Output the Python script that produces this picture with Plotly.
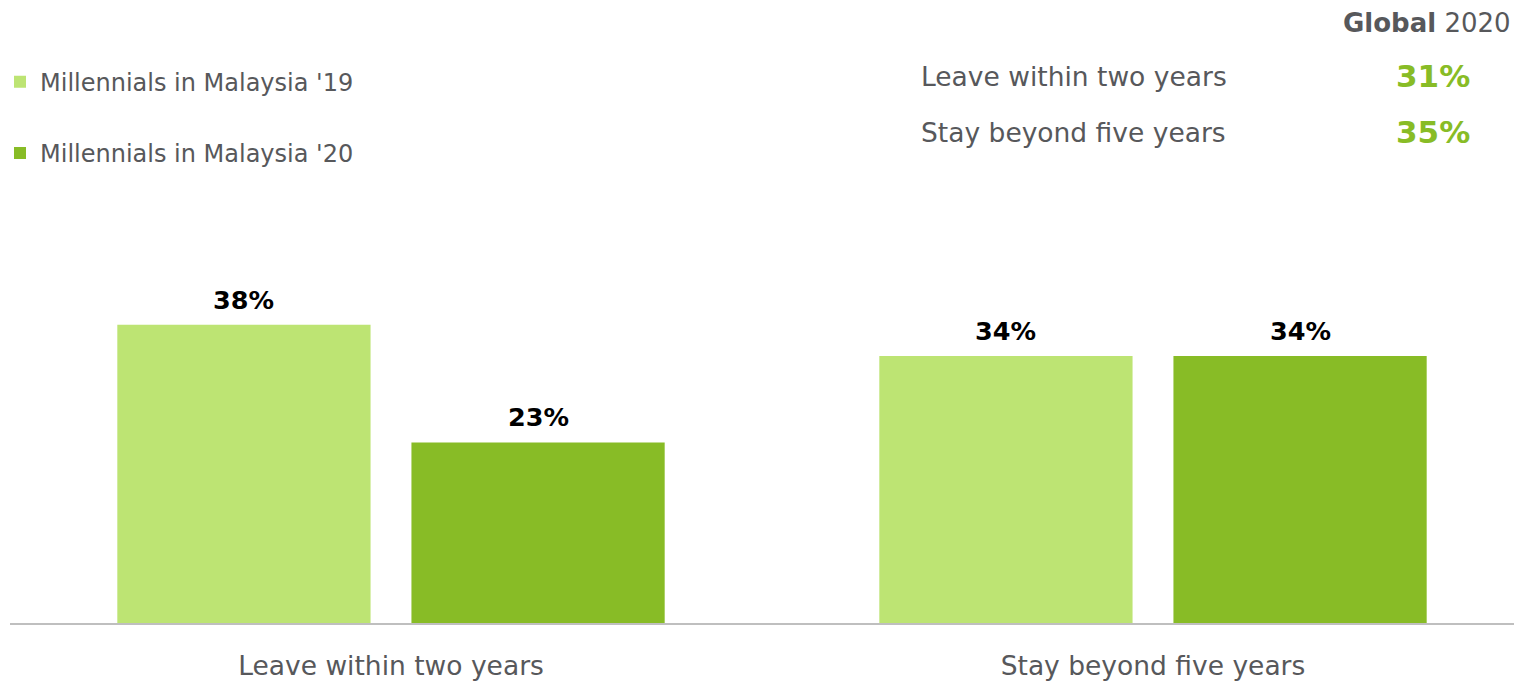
import plotly.graph_objects as go

categories = ["Leave within two years", "Stay beyond five years"]
series_names = ["Millennials in Malaysia '19", "Millennials in Malaysia '20"]
values_19 = [38, 34]
values_20 = [23, 34]
global_labels = ["Leave within two years", "Stay beyond five years"]
global_values = [31, 35]

light_green = "#BDE473"
dark_green = "#88BC26"
gray_text = "#57585B"
font_family = "DejaVu Sans, Verdana, sans-serif"

W, H = 1514, 681
ML, MR, MT, MB = 10, 0, 230, 52
PW, PH = W - ML - MR, H - MT - MB

BARGAP = 0.228
BARGROUPGAP = 0.139


def py(ypix):
    """paper y for a pixel row from the top of the figure"""
    return 1 + (MT - ypix) / PH


def px(xpix):
    return (xpix - ML) / PW


fig = go.Figure()
for name, vals, col in [(series_names[0], values_19, light_green), (series_names[1], values_20, dark_green)]:
    fig.add_trace(go.Bar(
        x=categories, y=vals, name=name, marker=dict(color=col, line=dict(width=0)),
        legendgroup=name, hoverinfo="skip",
    ))

# value labels above bars
slot = (1 - BARGAP) / 2
for si, vals in enumerate([values_19, values_20]):
    off = (-0.5 + si) * slot
    for ci, v in enumerate(vals):
        fig.add_annotation(x=ci + off, y=v, xref="x", yref="y", text=f"<b>{v}%</b>",
                           showarrow=False, yshift=25, yanchor="middle",
                           font=dict(size=25.5, color="#000000", family=font_family))

# Global 2020 panel
fig.add_annotation(xref="paper", yref="paper", x=1.0, y=py(20), xanchor="right", yanchor="middle",
                   text="<b>Global</b> 2020", showarrow=False, xshift=-1,
                   font=dict(size=26, color=gray_text, family=font_family))
for lbl, val, yy in zip(global_labels, global_values, [74, 131]):
    fig.add_annotation(xref="paper", yref="paper", x=px(919), y=py(yy),
                       xanchor="left", yanchor="middle", text=lbl, showarrow=False,
                       font=dict(size=26.5, color=gray_text, family=font_family))
    fig.add_annotation(xref="paper", yref="paper", x=px(1472), y=py(yy),
                       xanchor="right", yanchor="middle", text=f"<b>{val}%</b>", showarrow=False,
                       font=dict(size=31, color=dark_green, family=font_family))

fig.update_layout(
    width=W, height=H,
    margin=dict(l=ML, r=MR, t=MT, b=MB),
    paper_bgcolor="white", plot_bgcolor="white",
    barmode="group", bargap=BARGAP, bargroupgap=BARGROUPGAP,
    font=dict(family=font_family, color=gray_text, size=22),
    showlegend=True,
    legend=dict(x=px(0), y=py(57), xref="paper", yref="paper", xanchor="left", yanchor="top",
                traceorder="grouped", tracegroupgap=37,
                font=dict(size=24, color=gray_text, family=font_family),
                bgcolor="rgba(0,0,0,0)"),
    xaxis=dict(type="category", range=[-0.5, 1.5 - 20 / 762], showline=True, linecolor="#BFBFBF",
               linewidth=2, ticks="", showgrid=False, zeroline=False, ticklabelstandoff=18,
               tickfont=dict(size=26.5, color=gray_text, family=font_family), fixedrange=True),
    yaxis=dict(range=[0, PH / 7.97], visible=False, showgrid=False, zeroline=False, fixedrange=True),
)

fig.write_html("out.html", config={"displayModeBar": False},
               post_script="document.body.style.margin='0px';document.body.style.overflow='hidden';")
